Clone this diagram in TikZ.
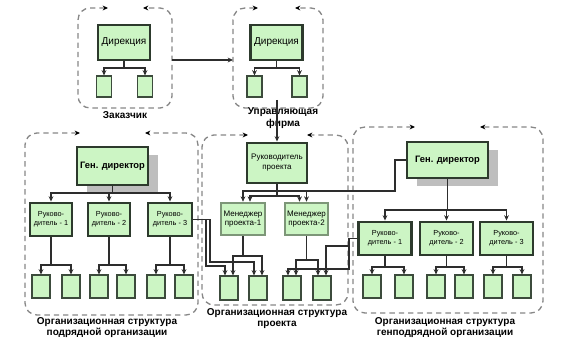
\documentclass[tikz,border=0pt]{standalone}
\usepackage{fontspec}
\setmainfont{Liberation Sans}
\usetikzlibrary{arrows.meta,calc,shadows}
\definecolor{boxfill}{RGB}{204,245,196}
\definecolor{darkb}{RGB}{45,58,45}
\definecolor{mgrb}{RGB}{125,150,120}
\definecolor{leafb}{RGB}{60,75,60}
\definecolor{linec}{RGB}{45,45,45}
\definecolor{dashc}{RGB}{135,135,135}
\definecolor{shadowc}{RGB}{190,190,190}
\begin{document}
\begin{tikzpicture}[x=0.75pt,y=-0.75pt,
  tip/.style={-{Stealth[length=4pt,width=3.6pt]}},
  conn/.style={draw=linec,line width=1.1pt},
  arr/.style={conn,-{Stealth[length=4pt,width=3.6pt]}},
  grp/.style={draw=dashc,line width=1pt,dash pattern=on 4pt off 3pt,rounded corners=9pt,
    {Stealth[length=4pt,width=3.6pt,color=black]}-{Stealth[length=4pt,width=3.6pt,color=black]}},
  sz/.style 2 args={minimum width=#1*0.75pt,minimum height=#2*0.75pt},
  big/.style={draw=darkb,fill=boxfill,line width=2.2pt,inner sep=0pt,align=center},
  mgrbox/.style={draw=mgrb,fill=boxfill,line width=2pt,inner sep=0pt,align=center,sz={44}{32},
    font=\fontsize{6}{7.2}\selectfont},
  rbox/.style={big,font=\fontsize{5.5}{6.8}\selectfont},
  leaf/.style={draw=leafb,fill=boxfill,line width=0.8pt,inner sep=0pt,sz={18}{23}},
  sleaf/.style={draw=leafb,fill=boxfill,line width=0.8pt,inner sep=0pt,sz={15}{21}},
  gdshadow/.style={drop shadow={shadow xshift=7.5pt,shadow yshift=-6pt,opacity=1,fill=shadowc}},
  lbl/.style={align=center,font=\bfseries\fontsize{7.5}{8.6}\selectfont,inner sep=0pt}
]
\useasboundingbox (0,0) rectangle (571,342);

% ---------- dashed group outlines ----------
\draw[grp] (108,8) -- (78,8) -- (78,108) -- (172,108) -- (172,8) -- (143,8);
\draw[grp] (258,8) -- (233,8) -- (233,108) -- (323,108) -- (323,8) -- (295,8);
\draw[grp] (80,133) -- (25,133) -- (25,315) -- (198,315) -- (198,133) -- (145,133);
\draw[grp] (248,135) -- (202,135) -- (202,305) -- (348,305) -- (348,135) -- (307,135);
\draw[grp] (415,127) -- (353,127) -- (353,313) -- (543,313) -- (543,127) -- (480,127);
\coordinate (g1e) at (172,60);
\coordinate (g2w) at (233,60);
\coordinate (umf) at (277,100);

% ---------- top groups ----------
\node[big,sz={52}{35},font=\fontsize{7.5}{9}\selectfont] (dir1) at (124,42.5) {Дирекция};
\node[sleaf] (l1a) at (104,86.5) {};
\node[sleaf] (l1b) at (145,86.5) {};
\node[big,sz={52}{35},font=\fontsize{7.5}{9}\selectfont] (dir2) at (276.5,42.5) {Дирекция};
\node[sleaf] (l2a) at (254.5,86.5) {};
\node[sleaf] (l2b) at (299.5,86.5) {};
\node[lbl] (zak) at (125,115) {Заказчик};
\node[lbl] (uprf) at (283,118) {Управляющая\\фирма};

\coordinate (d1j) at (124,68);
\draw[conn] (dir1.south) -- (d1j);
\draw[arr] (d1j) -| (l1a.north);
\draw[arr] (d1j) -| (l1b.north);
\coordinate (d2j) at (276.5,68);
\draw[conn] (dir2.south) -- (d2j);
\draw[arr] (d2j) -| (l2a.north);
\draw[arr] (d2j) -| (l2b.north);
\draw[arr] (g1e) -- (g2w);

% ---------- left organisation ----------
\node[big,gdshadow,sz={71}{38},font=\bfseries\fontsize{7}{8.4}\selectfont] (gd1) at (112.5,166) {Ген. директор};
\node[rbox,sz={42}{33}] (ra1) at (51,219.5) {Руково-\\дитель - 1};
\node[rbox,sz={42}{33}] (ra2) at (109,219.5) {Руково-\\дитель - 2};
\node[rbox,sz={44}{33}] (ra3) at (170,219.5) {Руково-\\дитель - 3};
\node[leaf] (la1) at (41,286.5) {};
\node[leaf] (la2) at (71,286.5) {};
\node[leaf] (la3) at (99,286.5) {};
\node[leaf] (la4) at (126,286.5) {};
\node[leaf] (la5) at (156,286.5) {};
\node[leaf] (la6) at (184,286.5) {};
\node[lbl] (lbla) at (107,327.5) {Организационная структура\\подрядной организации};

\coordinate (gd1j) at (112.5,193);
\draw[conn] (gd1.south) -- (gd1j);
\draw[arr] (gd1j) -| (ra1.north);
\draw[arr] (gd1j) -| (ra2.north);
\draw[arr] (gd1j) -| (ra3.north);
\coordinate (ra1j) at (51,265);
\coordinate (ra2j) at (109,265);
\coordinate (ra3j) at (170,265);
\draw[conn] (ra1.south) -- (ra1j);
\draw[arr] (ra1j) -| (la1.north);
\draw[arr] (ra1j) -| (la2.north);
\draw[conn] (ra2.south) -- (ra2j);
\draw[arr] (ra2j) -| (la3.north);
\draw[arr] (ra2j) -| (la4.north);
\draw[conn] (ra3.south) -- (ra3j);
\draw[arr] (ra3j) -| (la5.north);
\draw[arr] (ra3j) -| (la6.north);

% ---------- project ----------
\node[big,sz={60}{40},font=\fontsize{6}{7.4}\selectfont] (rp) at (277,163) {Руководитель\\проекта};
\node[mgrbox] (mgr1) at (243,219) {Менеджер\\проекта-1};
\node[mgrbox,sz={43}{32}] (mgr2) at (306.5,219) {Менеджер\\проекта-2};
\node[leaf,sz={18}{24}] (pl1) at (229,288) {};
\node[leaf,sz={18}{24}] (pl2) at (258,288) {};
\node[leaf,sz={18}{24}] (pl3) at (292,288) {};
\node[leaf,sz={18}{24}] (pl4) at (322,288) {};
\node[lbl] (lblp) at (277,318.5) {Организационная структура\\проекта};

% ---------- general contractor ----------
\node[big,gdshadow,sz={81}{36},font=\bfseries\fontsize{7}{8.4}\selectfont] (gd2) at (447.5,160) {Ген. директор};
\node[rbox,sz={53}{33}] (rb1) at (385,238.5) {Руково-\\дитель - 1};
\node[rbox,sz={53}{33}] (rb2) at (446.5,238.5) {Руково-\\дитель - 2};
\node[rbox,sz={53}{33}] (rb3) at (506.5,238.5) {Руково-\\дитель - 3};
\node[leaf] (lb1) at (372,286.5) {};
\node[leaf] (lb2) at (404,286.5) {};
\node[leaf] (lb3) at (436,286.5) {};
\node[leaf] (lb4) at (464,286.5) {};
\node[leaf] (lb5) at (493,286.5) {};
\node[leaf] (lb6) at (522,286.5) {};
\node[lbl] (lblb) at (445,327.5) {Организационная структура\\генподрядной организации};

\coordinate (gd2j) at (447.5,210);
\draw[conn] (gd2.south) -- (gd2j);
\draw[arr] (gd2j) -| (rb1.north);
\draw[arr] (gd2j) -| (rb2.north);
\draw[arr] (gd2j) -| (rb3.north);
\coordinate (rb1j) at (385,267);
\coordinate (rb2j) at (446.5,267);
\coordinate (rb3j) at (506.5,267);
\draw[conn] (rb1.south) -- (rb1j);
\draw[arr] (rb1j) -| (lb1.north);
\draw[arr] (rb1j) -| (lb2.north);
\draw[conn] (rb2.south) -- (rb2j);
\draw[arr] (rb2j) -| (lb3.north);
\draw[arr] (rb2j) -| (lb4.north);
\draw[conn] (rb3.south) -- (rb3j);
\draw[arr] (rb3j) -| (lb5.north);
\draw[arr] (rb3j) -| (lb6.north);

% ---------- cross connections ----------
\draw[arr] (umf) -- (rp.north);
\coordinate (rpj1) at (277,191);
\coordinate (rpj2) at (277,196);
\coordinate (gdv) at (395,191);
\draw[conn] (rp.south) -- (rpj2);
\draw[arr] (rpj1) -| (mgr1.north);
\draw[arr] (rpj1) -| (mgr2.north);
\draw[arr] (rpj2) -| ($(mgr1.north)+(7,0)$);
\draw[arr] (rpj2) -| ($(mgr2.north)+(-7,0)$);
\draw[conn] (rpj1) -- (gdv) |- (gd2.west);

\coordinate (m1j) at (243,256);
\draw[conn] (mgr1.south) -- (m1j);
\draw[arr] (m1j) -| ($(pl1.north)+(4,0)$);
\draw[arr] (m1j) -| ($(pl2.north)+(4,0)$);
\coordinate (m2j) at (306.5,260);
\draw[conn] (mgr2.south) -- (m2j);
\draw[arr] (m2j) -| ($(pl3.north)+(4,0)$);
\draw[arr] (m2j) -| ($(pl4.north)+(-4,0)$);

\coordinate (c1) at (206,219.5);
\coordinate (c2) at (210,219.5);
\draw[arr] (ra3.east) -- (c1) |- (215,266) -| ($(pl1.north)+(-4,0)$);
\draw[arr] (ra3.east) -- (c2) |- (220,262) -| ($(pl2.north)+(-4,0)$);
\coordinate (c3) at (349,238.5);
\draw[arr] (rb1.west) -- (c3) |- (340,246) -| ($(pl4.north)+(4,0)$);
\draw[arr] (c3) |- (300,269) -| ($(pl3.north)+(-4,0)$);
\end{tikzpicture}
\end{document}
